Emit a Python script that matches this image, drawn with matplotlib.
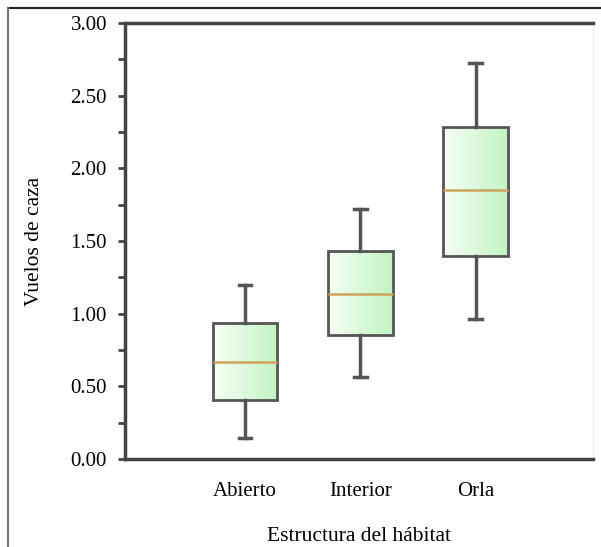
import matplotlib
matplotlib.use("Agg")
import matplotlib.pyplot as plt
import numpy as np
from matplotlib.lines import Line2D
from matplotlib.colors import LinearSegmentedColormap

categories = ["Abierto", "Interior", "Orla"]
whislo = [0.145, 0.564, 0.963]
q1 = [0.406, 0.853, 1.397]
med = [0.667, 1.136, 1.851]
q3 = [0.936, 1.430, 2.285]
whishi = [1.200, 1.720, 2.725]

plt.rcParams['font.family'] = ['Liberation Serif', 'DejaVu Serif']

fig = plt.figure(figsize=(6.01, 5.47), dpi=100)
ax = fig.add_axes([0.208, 0.161, 0.779, 0.797])

stats = []
for i, c in enumerate(categories):
    stats.append(dict(label=c, whislo=whislo[i], q1=q1[i], med=med[i],
                      q3=q3[i], whishi=whishi[i], fliers=[]))

positions = [1, 2, 3]
width = 0.56
res = ax.bxp(stats, positions=positions, widths=width, patch_artist=True,
             showfliers=False,
             boxprops=dict(facecolor='none', edgecolor='#555555', linewidth=2),
             whiskerprops=dict(color='#555555', linewidth=2.5),
             capprops=dict(color='#555555', linewidth=2.5),
             medianprops=dict(color='#cfa45a', linewidth=1.8),
             capwidths=0.11)

cmap = LinearSegmentedColormap.from_list('g', ['#f6fff6', '#c2f3c2'])
grad = np.linspace(0, 1, 256).reshape(1, -1)
for i, p in enumerate(positions):
    im = ax.imshow(grad, cmap=cmap, aspect='auto',
                   extent=[p - width / 2, p + width / 2, q1[i], q3[i]],
                   zorder=1, interpolation='bicubic')
    im.set_clip_path(res['boxes'][i])
for b in res['boxes']:
    b.set_zorder(3)
for m in res['medians']:
    m.set_zorder(4)

ax.set_xlim(-0.04, 4.02)
ax.set_ylim(0, 3.0)
ax.set_yticks(np.arange(0, 3.01, 0.5))
ax.set_yticklabels([f"{v:.2f}" for v in np.arange(0, 3.01, 0.5)])
ax.set_yticks(np.arange(0.25, 3.0, 0.5), minor=True)
ax.tick_params(axis='y', which='both', direction='out', length=5, width=2,
               color='#444444', labelsize=15, pad=8)
ax.tick_params(axis='x', length=0, labelsize=15, pad=16.5)
ax.set_xticks(positions)
ax.set_xticklabels(categories)

for s in ['left', 'bottom', 'top']:
    ax.spines[s].set_color('#444444')
    ax.spines[s].set_linewidth(2.5)
ax.spines['right'].set_color('#eeeeee')
ax.spines['right'].set_linewidth(1)

ax.set_ylabel("Vuelos de caza", fontsize=15.5, labelpad=19)
ax.set_xlabel("Estructura del hábitat", fontsize=15.5, labelpad=18.5)

fig.add_artist(Line2D([8/601, 1], [1 - 8/547, 1 - 8/547], color='#222222', lw=1.5, transform=fig.transFigure))
fig.add_artist(Line2D([8/601, 8/601], [0, 1 - 8/547], color='#777777', lw=1.5, transform=fig.transFigure))

fig.savefig("out.png", dpi=100)
